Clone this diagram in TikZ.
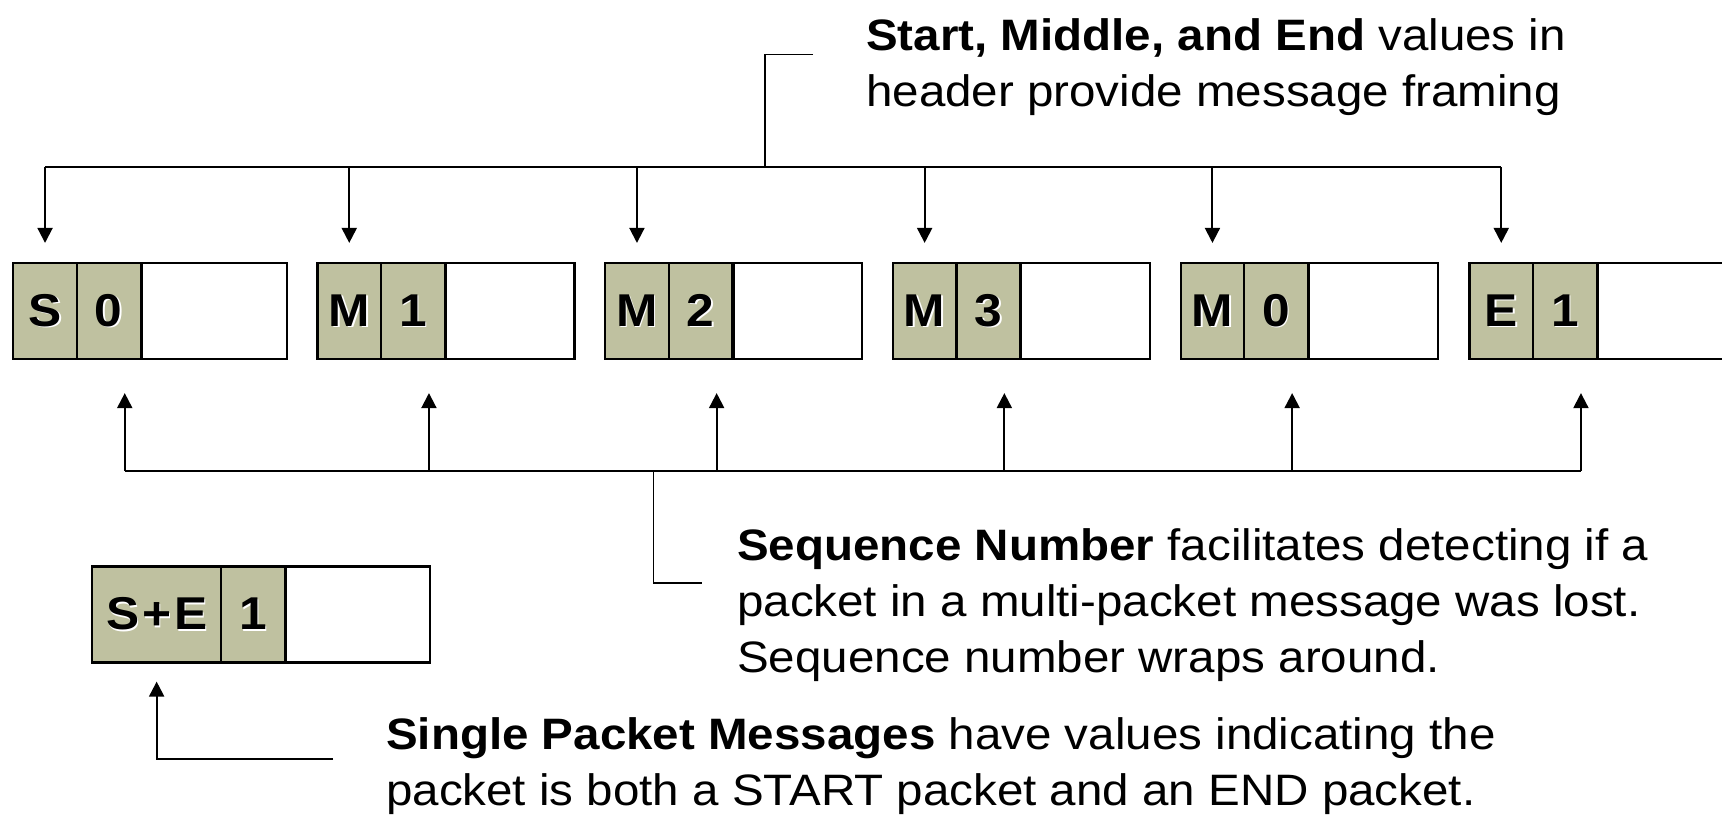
\documentclass[tikz,border=0pt]{standalone}
\usepackage{fontspec}
\setmainfont{Liberation Sans}[FakeStretch=1.08]
\usetikzlibrary{arrows.meta,calc}
\definecolor{cellfill}{RGB}{191,193,160}
\newcommand{\emb}[1]{\makebox[0pt][l]{\hspace{1.6pt}\raisebox{-1.6pt}{\color{white}#1}}#1}
\newcommand{\mypkt}[5]{%
  \node[bodycell, minimum width=#3pt] (#1w) at (#2+127.4,311) {};
  \node[hdrcell] (#1a) at (#2+31.85,311) {\emb{#4}};
  \node[hdrcell] (#1b) at (#2+95.55,311) {\emb{#5}};
}
\tikzset{
  bodycell/.style={draw=black, line width=2.2pt, fill=white, minimum height=96pt, inner sep=0pt, anchor=west},
  hdrcell/.style={draw=black, line width=2.2pt, fill=cellfill, minimum height=96pt, minimum width=63.7pt, inner sep=0pt, anchor=center, font=\fontsize{46}{50}\selectfont\bfseries},
  bus/.style={line width=2.4pt},
  arr/.style={line width=2pt, -{Triangle[length=15pt,width=15pt]}},
  callout/.style={line width=1.6pt},
  txt/.style={anchor=base west, align=left, inner sep=0pt, font=\fontsize{44}{56}\selectfont},
}
\begin{document}
\begin{tikzpicture}[x=1pt,y=-1pt]
\useasboundingbox (0,0) rectangle (1722,817);
\clip (0,0) rectangle (1722,817);
% packets
\mypkt{S0}{13.2}{144.9}{S}{0}
\mypkt{M1}{317.4}{128.5}{M}{1}
\mypkt{M2}{605.1}{128.5}{M}{2}
\mypkt{M3}{892.8}{128.5}{M}{3}
\mypkt{M0}{1180.6}{128.5}{M}{0}
\mypkt{E1}{1469.4}{270}{E}{1}
% single packet
\node[bodycell, minimum width=144.3pt] (SEw) at (284.7,614.5) {};
\node[hdrcell, minimum width=128.7pt] (SEa) at (156.65,614.5) {\emb{S\kern3pt+\kern3pt E}};
\node[hdrcell] (SEb) at (252.85,614.5) {\emb{1}};
% texts (anchor = baseline of the last line)
\node[txt] (t1) at (866,106) {\textbf{Start, Middle, and End} values in\\header provide message framing};
\node[txt] (t2) at (737,672) {\textbf{Sequence Number} facilitates detecting if a\\packet in a multi-packet message was lost.\\Sequence number wraps around.};
\node[txt] (t3) at (386,805) {\textbf{Single Packet Messages} have values indicating the\\packet is both a START packet and an END packet.};
% top bus
\coordinate (tb) at (0,167);
\draw[bus] (S0a.north |- tb) -- (E1a.north |- tb);
\foreach \p in {S0,M1,M2,M3,M0,E1}
  \draw[arr, shorten >=19pt] (\p a.north |- tb) -- (\p a.north);
\coordinate (tcE) at (813,54.3);
\coordinate (tcJ) at (765,167);
\draw[callout] (tcE) -- (tcE -| tcJ) -- (tcJ);
% bottom bus
\coordinate (bb) at (0,471);
\foreach \p in {S0,M1,M2,M3,M0,E1}
  \coordinate (\p u) at ([xshift=16pt]\p b.south);
\draw[bus] (S0u |- bb) -- (E1u |- bb);
\foreach \p in {S0,M1,M2,M3,M0,E1}
  \draw[arr, shorten >=33pt] (\p u |- bb) -- (\p u);
\coordinate (scJ) at (653.5,471);
\coordinate (scE) at (702,582.7);
\draw[callout] (scJ) -- (scJ |- scE) -- (scE);
% single packet arrow
\coordinate (seE) at (333,759);
\draw[arr, shorten >=18pt] (seE) -- (seE -| SEa.south) -- (SEa.south);
\end{tikzpicture}
\end{document}
